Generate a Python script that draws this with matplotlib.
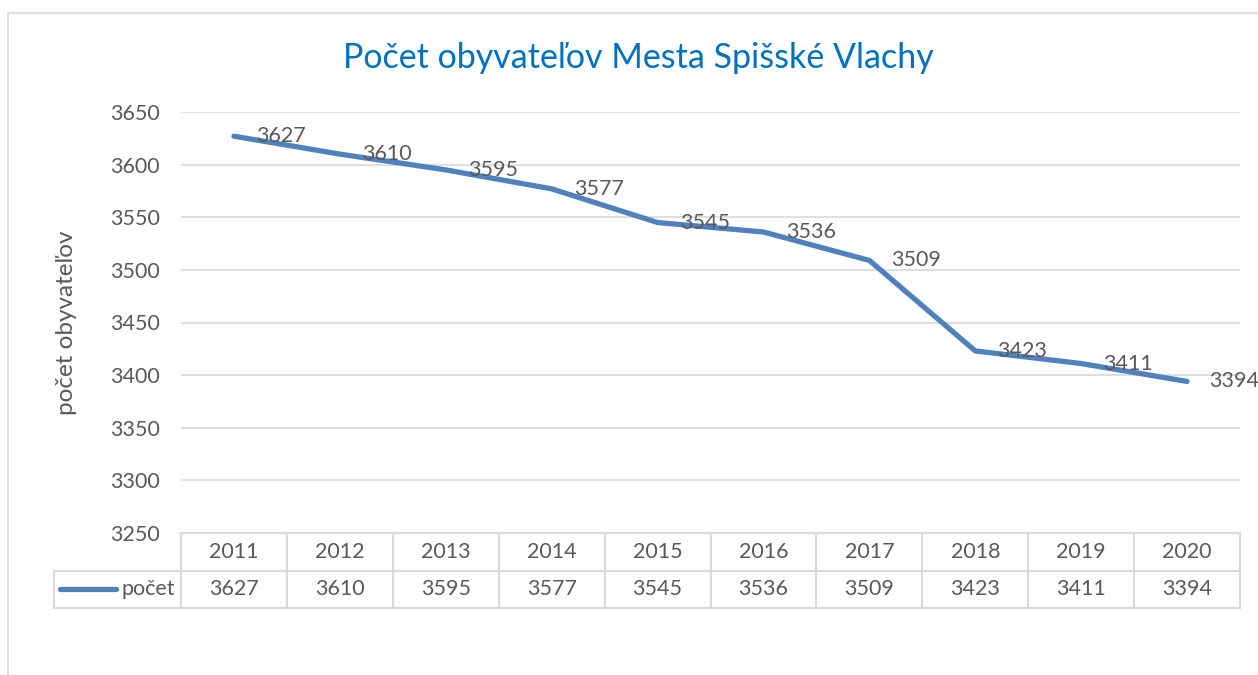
import matplotlib
matplotlib.use("Agg")
import matplotlib.pyplot as plt
from matplotlib.lines import Line2D
from matplotlib.patches import Rectangle

roky = ["2011", "2012", "2013", "2014", "2015", "2016", "2017", "2018", "2019", "2020"]
pocet = [3627, 3610, 3595, 3577, 3545, 3536, 3509, 3423, 3411, 3394]
y_ticky = [3250, 3300, 3350, 3400, 3450, 3500, 3550, 3600, 3650]

SIRKA, VYSKA = 1258, 675
MODRA = "#4F81BD"
SIVA_TEXT = "#595959"
SIVA_MRIEZKA = "#D9D9D9"
PISMO = "Lato"
VELKOST = 15.5

plt.rcParams["font.family"] = [PISMO, "DejaVu Sans"]

fig = plt.figure(figsize=(SIRKA / 100, VYSKA / 100), dpi=100)


def px(x0, y0, x1, y1):
    # pixelové súradnice (zhora) -> zlomky figúry
    return [x0 / SIRKA, 1 - y1 / VYSKA, (x1 - x0) / SIRKA, (y1 - y0) / VYSKA]


# rámček grafu
fig.patches.append(Rectangle((8 / SIRKA, -0.1), 1.2, 1 - 13 / VYSKA + 0.1,
                             transform=fig.transFigure, fill=False,
                             edgecolor="#D9D9D9", lw=1.2))

ax = fig.add_axes(px(181, 112, 1240, 533))
x = list(range(len(roky)))
ax.plot(x, pocet, color=MODRA, lw=3.8, solid_capstyle="round", zorder=3)
for xi, v in zip(x, pocet):
    ax.annotate(str(v), (xi, v), xytext=(16, 0), textcoords="offset points",
                va="center", ha="left", fontsize=VELKOST, color=SIVA_TEXT, zorder=4)

ax.set_xlim(-0.5, len(roky) - 0.5)
ax.set_ylim(3250, 3650)
ax.set_yticks(y_ticky)
ax.set_xticks([])
ax.grid(axis="y", color=SIVA_MRIEZKA, lw=1.2)
ax.set_axisbelow(True)
ax.tick_params(axis="y", length=0, pad=15, labelsize=VELKOST, labelcolor=SIVA_TEXT)
for s in ax.spines.values():
    s.set_visible(False)
ax.set_ylabel("počet obyvateľov", fontsize=17.5, color=SIVA_TEXT, labelpad=24)

# dátová tabuľka pod grafom
tab = fig.add_axes(px(181, 533, 1240, 608))
tab.set_xlim(-0.5, len(roky) - 0.5)
tab.set_ylim(0, 2)
tab.axis("off")
lavy = -0.5 - 127 / 106
kw = dict(color=SIVA_MRIEZKA, lw=1.5, clip_on=False)
tab.plot([-0.5, len(roky) - 0.5], [2, 2], **kw)
tab.plot([lavy, len(roky) - 0.5], [1, 1], **kw)
tab.plot([lavy, len(roky) - 0.5], [0, 0], **kw)
tab.plot([lavy, lavy], [0, 1], **kw)
for i in range(len(roky) + 1):
    tab.plot([i - 0.5, i - 0.5], [0, 2], **kw)
for xi, r, v in zip(x, roky, pocet):
    tab.text(xi, 1.5, r, ha="center", va="center", fontsize=VELKOST, color=SIVA_TEXT)
    tab.text(xi, 0.5, str(v), ha="center", va="center", fontsize=VELKOST, color=SIVA_TEXT)
tab.add_line(Line2D([lavy + 0.06, lavy + 0.58], [0.5, 0.5], color=MODRA, lw=3.8,
                    solid_capstyle="round", clip_on=False))
tab.text(-0.5 - 6 / 106, 0.5, "počet", ha="right", va="center", fontsize=VELKOST,
         color=SIVA_TEXT)

fig.text(638 / SIRKA, 1 - 58 / VYSKA, "Počet obyvateľov Mesta Spišské Vlachy",
         ha="center", va="center", fontsize=24.5, color="#0070C0")

fig.savefig("out.png", dpi=100)
